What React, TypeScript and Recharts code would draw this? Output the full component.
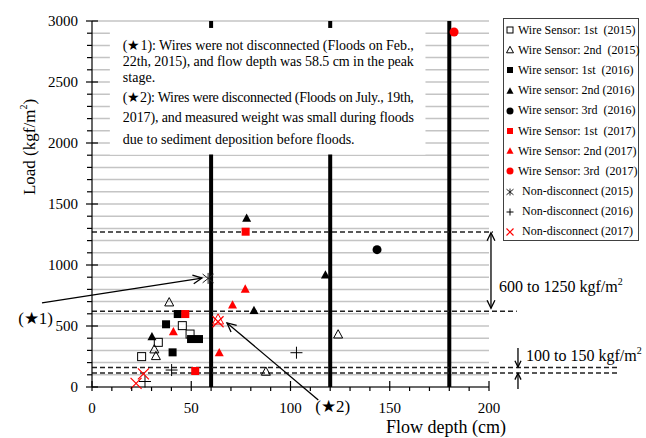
import React from "react";
import {
  CartesianGrid,
  Legend,
  ReferenceArea,
  ReferenceLine,
  Scatter,
  ScatterChart,
  XAxis,
  YAxis,
} from "recharts";

const FONT = "'Liberation Serif', 'Times New Roman', serif";
const RED = "#ff0000";
const BLACK = "#000000";

type Pt = { x: number; y: number };
type Kind = "sqOpen" | "triOpen" | "sq" | "tri" | "dot" | "asterisk" | "plus" | "cross";

// flow depth (cm) vs load (kgf/m2)
const sensor1st2015: Pt[] = [
  { x: 25, y: 249 },
  { x: 33.4, y: 366 },
  { x: 45.5, y: 503 },
  { x: 49.4, y: 434 },
];
const sensor2nd2015: Pt[] = [
  { x: 38.9, y: 694 },
  { x: 31.4, y: 309 },
  { x: 32.2, y: 254 },
  { x: 87.6, y: 126 },
  { x: 124, y: 431 },
];
const sensor1st2016: Pt[] = [
  { x: 43.2, y: 598 },
  { x: 37.3, y: 514 },
  { x: 49.9, y: 393 },
  { x: 53.9, y: 393 },
  { x: 40.6, y: 284 },
];
const sensor2nd2016: Pt[] = [
  { x: 30.2, y: 412 },
  { x: 81.6, y: 628 },
  { x: 117.6, y: 918 },
  { x: 77.9, y: 1383 },
];
const sensor3rd2016: Pt[] = [{ x: 143.6, y: 1126 }];
const sensor1st2017: Pt[] = [
  { x: 47, y: 598 },
  { x: 52, y: 131 },
  { x: 77.4, y: 1273 },
];
const sensor2nd2017: Pt[] = [
  { x: 41, y: 453 },
  { x: 64.1, y: 281 },
  { x: 70.8, y: 672 },
  { x: 77.2, y: 803 },
];
const sensor3rd2017: Pt[] = [{ x: 182.4, y: 2910 }];
const nonDisc2015: Pt[] = [{ x: 58.5, y: 890 }];
const nonDisc2016: Pt[] = [
  { x: 40.1, y: 139 },
  { x: 26.7, y: 45 },
  { x: 103, y: 281 },
];
const nonDisc2017: Pt[] = [
  { x: 25.9, y: 107 },
  { x: 22.2, y: 30 },
  { x: 63.5, y: 535 },
];
// the (★2) flood, drawn as an open red triangle (not in legend)
const star2Point: Pt[] = [{ x: 63.5, y: 552 }];

const xTicks = [0, 10, 20, 30, 40, 50, 60, 70, 80, 90, 100, 110, 120, 130, 140, 150, 160, 170, 180, 190, 200];
const xLabels = [0, 50, 100, 150, 200];
const yTicks = [
  0, 100, 200, 300, 400, 500, 600, 700, 800, 900, 1000, 1100, 1200, 1300, 1400, 1500, 1600, 1700,
  1800, 1900, 2000, 2100, 2200, 2300, 2400, 2500, 2600, 2700, 2800, 2900, 3000,
];
const yLabels = [0, 500, 1000, 1500, 2000, 2500, 3000];

const depthLines = [60, 120, 180];
const upperBand = [1270, 620];
const lowerBand = [160, 115];

const noteLines = [
  "(★1): Wires were not disconnected (Floods on Feb.,",
  "22th, 2015), and flow depth was 58.5 cm in the peak",
  "stage.",
  "(★2): Wires were disconnected (Floods on July., 19th,",
  "2017), and measured weight was small during floods",
  "due to sediment deposition before floods.",
];
const noteJustified = [true, true, false, true, true, false];

const series: { name: string; data: Pt[]; kind: Kind; color: string }[] = [
  { name: "Wire Sensor: 1st  (2015)", data: sensor1st2015, kind: "sqOpen", color: BLACK },
  { name: "Wire Sensor: 2nd  (2015)", data: sensor2nd2015, kind: "triOpen", color: BLACK },
  { name: "Wire sensor: 1st  (2016)", data: sensor1st2016, kind: "sq", color: BLACK },
  { name: "Wire sensor: 2nd (2016)", data: sensor2nd2016, kind: "tri", color: BLACK },
  { name: "Wire sensor: 3rd  (2016)", data: sensor3rd2016, kind: "dot", color: BLACK },
  { name: "Wire Sensor: 1st  (2017)", data: sensor1st2017, kind: "sq", color: RED },
  { name: "Wire Sensor: 2nd (2017)", data: sensor2nd2017, kind: "tri", color: RED },
  { name: "Wire Sensor: 3rd  (2017)", data: sensor3rd2017, kind: "dot", color: RED },
  { name: "Non-disconnect (2015)", data: nonDisc2015, kind: "asterisk", color: "#222" },
  { name: "Non-disconnect (2016)", data: nonDisc2016, kind: "plus", color: BLACK },
  { name: "Non-disconnect (2017)", data: nonDisc2017, kind: "cross", color: RED },
];

const markerSize: Record<Kind, number> = {
  sqOpen: 8,
  triOpen: 9,
  sq: 8,
  tri: 9,
  dot: 9,
  asterisk: 11,
  plus: 12,
  cross: 11,
};

function Marker({ kind, cx, cy, color, s }: { kind: Kind; cx: number; cy: number; color: string; s: number }) {
  const h = s / 2;
  switch (kind) {
    case "sqOpen":
      return <rect x={cx - h} y={cy - h} width={s} height={s} fill="#fff" stroke={color} strokeWidth={1} />;
    case "sq":
      return <rect x={cx - h} y={cy - h} width={s} height={s} fill={color} />;
    case "triOpen":
    case "tri": {
      const pts = `${cx},${cy - h * 1.05} ${cx + h},${cy + h * 0.8} ${cx - h},${cy + h * 0.8}`;
      return kind === "tri" ? (
        <polygon points={pts} fill={color} />
      ) : (
        <polygon points={pts} fill="#fff" fillOpacity={0} stroke={color} strokeWidth={1} />
      );
    }
    case "dot":
      return <circle cx={cx} cy={cy} r={h} fill={color} />;
    case "asterisk":
      return (
        <path
          d={`M${cx - h},${cy - h * 0.8}L${cx + h},${cy + h * 0.8}M${cx + h},${cy - h * 0.8}L${cx - h},${cy + h * 0.8}M${cx},${cy - h}L${cx},${cy + h}`}
          stroke={color}
          strokeWidth={1}
          fill="none"
        />
      );
    case "plus":
      return (
        <path d={`M${cx - h},${cy}L${cx + h},${cy}M${cx},${cy - h}L${cx},${cy + h}`} stroke={color} strokeWidth={1} fill="none" />
      );
    case "cross":
      return (
        <path
          d={`M${cx - h},${cy - h}L${cx + h},${cy + h}M${cx + h},${cy - h}L${cx - h},${cy + h}`}
          stroke={color}
          strokeWidth={1.2}
          fill="none"
        />
      );
  }
  return null;
}

function XTick(props: any) {
  const { x, y, payload } = props;
  const v = payload.value;
  const major = xLabels.includes(v);
  return (
    <g>
      <line x1={x} x2={x} y1={major ? y - 6 : y} y2={y + 4} stroke={BLACK} strokeWidth={1.2} />
      {major && (
        <text x={x} y={y + 26} textAnchor="middle" fontSize={15} fontFamily={FONT} fill={BLACK}>
          {v}
        </text>
      )}
    </g>
  );
}

function YTick(props: any) {
  const { x, y, payload } = props;
  const v = payload.value;
  const major = yLabels.includes(v);
  return (
    <g>
      <line x1={major ? x - 6 : x - 5} x2={major ? x + 6 : x} y1={y} y2={y} stroke={BLACK} strokeWidth={1.2} />
      {major && (
        <text x={x - 14} y={y + 5} textAnchor="end" fontSize={15} fontFamily={FONT} fill={BLACK}>
          {v}
        </text>
      )}
    </g>
  );
}

function head(x1: number, y1: number, x2: number, y2: number, len: number) {
  const a = Math.atan2(y1 - y2, x1 - x2);
  const w = 0.45;
  const p1 = [x2 + len * Math.cos(a + w), y2 + len * Math.sin(a + w)];
  const p2 = [x2 + len * Math.cos(a - w), y2 + len * Math.sin(a - w)];
  return `M${p1[0]},${p1[1]}L${x2},${y2}L${p2[0]},${p2[1]}`;
}

function arrowShape(both: boolean, len: number, extra?: (p: any) => React.ReactNode) {
  return (p: any) => {
    const { x1, y1, x2, y2 } = p;
    return (
      <g>
        <line x1={x1} y1={y1} x2={x2} y2={y2} stroke={BLACK} strokeWidth={1.3} />
        <path d={head(x1, y1, x2, y2, len)} stroke={BLACK} strokeWidth={1.3} fill="none" />
        {both && <path d={head(x2, y2, x1, y1, len)} stroke={BLACK} strokeWidth={1.3} fill="none" />}
        {extra ? extra(p) : null}
      </g>
    );
  };
}

function NoteBox(p: any) {
  const { x, y, width, height } = p;
  return (
    <g>
      <rect x={x} y={y} width={width} height={height} fill="#fff" />
      {noteLines.map((line, i) => (
        <text
          key={i}
          x={x + 13}
          y={y + [22, 38, 54, 74, 94, 116][i]}
          fontSize={14}
          fontFamily={FONT}
          fill={BLACK}
          textLength={noteJustified[i] ? 291 : undefined}
          lengthAdjust="spacing"
        >
          {line}
        </text>
      ))}
    </g>
  );
}

function LegendBox() {
  return (
    <div
      style={{
        width: 136,
        height: 223,
        boxSizing: "border-box",
        border: "1px solid #404040",
        background: "#fff",
        paddingTop: 1,
        fontFamily: FONT,
        fontSize: 12,
        color: BLACK,
      }}
    >
      {series.map((s) => (
        <div key={s.name} style={{ height: 20.2, display: "flex", alignItems: "center", whiteSpace: "pre" }}>
          <svg width={14} height={12} style={{ flex: "none" }}>
            <Marker kind={s.kind} cx={6} cy={6} color={s.color} s={Math.min(markerSize[s.kind] - 2, 7)} />
          </svg>
          <span style={{ marginLeft: s.kind === "asterisk" || s.kind === "plus" || s.kind === "cross" ? 4 : 0 }}>
            {s.name}
          </span>
        </div>
      ))}
    </div>
  );
}

export default function App() {
  return (
    <div style={{ position: "absolute", left: 0, top: 0, width: 646, height: 438, background: "#fff" }}>
      <ScatterChart width={646} height={438} margin={{ top: 21, right: 157, bottom: 0, left: 0 }}>
        <CartesianGrid vertical={false} stroke="#c4c4c4" strokeWidth={1.5} />
        <XAxis
          type="number"
          dataKey="x"
          domain={[0, 200]}
          ticks={xTicks}
          interval={0}
          tickSize={0}
          tickMargin={0}
          tickLine={false}
          axisLine={{ stroke: BLACK, strokeWidth: 1.2 }}
          tick={(p: any) => <XTick {...p} />}
          height={51}
          label={{
            content: (p: any) => {
              const vb = p.viewBox;
              return (
                <text x={vb.x + vb.width - 43} y={vb.y + 46} textAnchor="middle" fontSize={18} fontFamily={FONT} fill={BLACK}>
                  Flow depth (cm)
                </text>
              );
            },
          }}
        />
        <YAxis
          type="number"
          dataKey="y"
          domain={[0, 3000]}
          ticks={yTicks}
          interval={0}
          tickSize={0}
          tickMargin={0}
          tickLine={false}
          axisLine={{ stroke: BLACK, strokeWidth: 1.2 }}
          tick={(p: any) => <YTick {...p} />}
          width={92}
          label={{
            content: (p: any) => {
              const vb = p.viewBox;
              const cx = vb.x + 29;
              const cy = vb.y + 126;
              return (
                <text
                  x={cx}
                  y={cy}
                  transform={`rotate(-90 ${cx} ${cy})`}
                  textAnchor="middle"
                  dominantBaseline="central"
                  fontSize={17}
                  fontFamily={FONT}
                  fill={BLACK}
                >
                  Load (kgf/m
                  <tspan fontSize={10} dy={-6}>
                    2
                  </tspan>
                  <tspan dy={6}>)</tspan>
                </text>
              );
            },
          }}
        />

        {depthLines.map((d) =>
          d < 170 ? (
            <React.Fragment key={d}>
              <ReferenceLine segment={[{ x: d, y: 0 }, { x: d, y: 1905 }]} stroke={BLACK} strokeWidth={4} ifOverflow="visible" />
              <ReferenceLine segment={[{ x: d, y: 2943 }, { x: d, y: 3000 }]} stroke={BLACK} strokeWidth={4} ifOverflow="visible" />
            </React.Fragment>
          ) : (
            <ReferenceLine key={d} segment={[{ x: d, y: 0 }, { x: d, y: 3000 }]} stroke={BLACK} strokeWidth={4} ifOverflow="visible" />
          )
        )}

        <ReferenceArea x1={9} x2={168} y1={1905} y2={2943} ifOverflow="visible" shape={(p: any) => <NoteBox {...p} />} />

        <ReferenceLine segment={[{ x: 0, y: upperBand[0] }, { x: 202, y: upperBand[0] }]} stroke="#222" strokeWidth={1.5} strokeDasharray="5 3" ifOverflow="visible" />
        <ReferenceLine segment={[{ x: 0, y: upperBand[1] }, { x: 214, y: upperBand[1] }]} stroke="#222" strokeWidth={1.5} strokeDasharray="5 3" ifOverflow="visible" />
        {lowerBand.map((v) => (
          <ReferenceLine key={v} segment={[{ x: 0, y: v }, { x: 266, y: v }]} stroke="#222" strokeWidth={1.5} strokeDasharray="5 3" ifOverflow="visible" />
        ))}

        <ReferenceLine
          segment={[{ x: 201, y: 1265 }, { x: 201, y: 645 }]}
          ifOverflow="visible"
          shape={arrowShape(true, 9, (p) => (
            <text x={p.x1 + 8} y={p.y2 - 16} fontSize={16} fontFamily={FONT} fill={BLACK}>
              600 to 1250 kgf/m
              <tspan fontSize={10} dy={-7}>
                2
              </tspan>
            </text>
          ))}
        />
        <ReferenceLine
          segment={[{ x: 214.6, y: 320 }, { x: 214.6, y: 163 }]}
          ifOverflow="visible"
          shape={arrowShape(false, 7, (p) => (
            <text x={p.x1 + 8} y={p.y2 - 6} fontSize={16} fontFamily={FONT} fill={BLACK}>
              100 to 150 kgf/m
              <tspan fontSize={10} dy={-7}>
                2
              </tspan>
            </text>
          ))}
        />
        <ReferenceLine segment={[{ x: 214.6, y: -16 }, { x: 214.6, y: 112 }]} ifOverflow="visible" shape={arrowShape(false, 7)} />

        <ReferenceLine
          segment={[{ x: -25.2, y: 689 }, { x: 55.4, y: 893 }]}
          ifOverflow="visible"
          shape={arrowShape(false, 10, (p) => (
            <text x={p.x1 + 11} y={p.y1 + 21} textAnchor="end" fontSize={17} fontFamily={FONT} fill={BLACK}>
              (★1)
            </text>
          ))}
        />
        <ReferenceLine
          segment={[{ x: 114, y: -107 }, { x: 68, y: 525 }]}
          ifOverflow="visible"
          shape={arrowShape(false, 10, (p) => (
            <text x={p.x1 - 3} y={p.y1 + 12} fontSize={17} fontFamily={FONT} fill={BLACK}>
              (★2)
            </text>
          ))}
        />

        {series.map((s) => (
          <Scatter
            key={s.name}
            name={s.name}
            data={s.data}
            isAnimationActive={false}
            shape={(p: any) => <Marker kind={s.kind} cx={p.cx} cy={p.cy} color={s.color} s={markerSize[s.kind]} />}
          />
        ))}
        <Scatter
          name="star2"
          data={star2Point}
          legendType="none"
          isAnimationActive={false}
          shape={(p: any) => <Marker kind="triOpen" cx={p.cx} cy={p.cy} color={RED} s={11} />}
        />

        <Legend
          layout="vertical"
          align="center"
          verticalAlign="middle"
          width={136}
          wrapperStyle={{ left: 503, top: 18, width: 136 }}
          content={() => <LegendBox />}
        />
      </ScatterChart>
    </div>
  );
}
